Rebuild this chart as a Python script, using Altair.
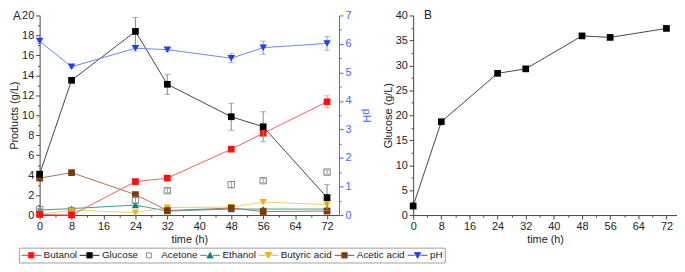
import altair as alt
import pandas as pd

# ---------------- data ----------------
time_h = [0, 8, 24, 32, 48, 56, 72]

butanol = [0.05, 0.0, 3.35, 3.7, 6.6, 8.2, 11.35]
butanol_err = [0.0, 0.0, 0.15, 0.15, 0.2, 0.25, 0.6]
glucose = [4.1, 13.5, 18.4, 13.1, 9.85, 8.85, 1.75]
glucose_err = [0.2, 0.2, 1.4, 1.0, 1.35, 1.5, 1.3]
acetone = [0.55, 0.45, 1.5, 2.45, 3.05, 3.45, 4.3]
acetone_err = [0.1, 0.1, 0.25, 0.2, 0.3, 0.2, 0.2]
ethanol = [0.5, 0.65, 1.0, 0.4, 0.6, 0.6, 0.6]
ethanol_err = [0.1, 0.1, 0.15, 0.05, 0.05, 0.1, 0.1]
butyric = [0.05, 0.5, 0.25, 0.75, 0.8, 1.3, 1.05]
butyric_err = [0.0, 0.05, 0.05, 0.05, 0.1, 0.2, 0.15]
acetic = [3.7, 4.25, 2.05, 0.45, 0.7, 0.35, 0.4]
acetic_err = [0.1, 0.1, 0.1, 0.05, 0.1, 0.05, 0.05]
ph = [6.1, 5.2, 5.85, 5.8, 5.5, 5.87, 6.02]
ph_err = [0.08, 0.05, 0.1, 0.06, 0.16, 0.23, 0.24]

glucose_b = [1.8, 18.7, 28.4, 29.3, 35.9, 35.6, 37.4]
glucose_b_err = [0.6, 0.3, 0.4, 0.4, 0.3, 0.3, 0.3]

series_names = ["Butanol", "Glucose", "Acetone", "Ethanol", "Butyric acid", "Acetic acid", "pH"]
series_values = [butanol, glucose, acetone, ethanol, butyric, acetic, ph]
series_errors = [butanol_err, glucose_err, acetone_err, ethanol_err, butyric_err, acetic_err, ph_err]

# ---------------- styles ----------------
FONT = "Liberation Sans"
BLUE_AXIS = "#4a63ff"
marker_colors = ["#ff1010", "#000000", "#8a8a8a", "#0a807a", "#f0b020", "#7a3a0e", "#1f3dff"]
line_colors = ["#ff5a5a", "#444444", "#8a8a8a", "#3a9e9a", "#f5cc70", "#a77450", "#6a86ff"]
err_colors = ["#ff8080", "#8a8a8a", "#9a9a9a", "#60b0ac", "#f5cc70", "#a77450", "#8098ff"]
marker_shapes = ["square", "square", "square", "triangle-up", "triangle-down", "square", "triangle-down"]
marker_filled = [True, True, False, True, True, True, True]
marker_sizes = [46, 46, 42, 52, 52, 46, 58]
has_line = [True, True, False, True, True, True, True]

legend_fills = ["#ff1010", "#000000", "#ffffff", "#0a807a", "#f0b020", "#7a3a0e", "#1f3dff"]
legend_strokes = ["#ff3030", "#222222", "#8a8a8a", "#2a8e8a", "#f0b020", "#8a5030", "#3050ff"]
LINES = "M-1,0H0.4M1.6,0H3.0"
legend_paths = [
    LINES + "M0.45,-0.55H1.55V0.55H0.45Z",
    LINES + "M0.45,-0.55H1.55V0.55H0.45Z",
    "M0.5,-0.5H1.5V0.5H0.5Z",
    LINES + "M1.0,-0.62L1.65,0.55H0.35Z",
    LINES + "M1.0,0.62L1.65,-0.55H0.35Z",
    LINES + "M0.45,-0.55H1.55V0.55H0.45Z",
    LINES + "M1.0,0.62L1.65,-0.55H0.35Z",
]

# ---------------- tables ----------------
rows = []
for name, vals, errs in zip(series_names, series_values, series_errors):
    for t, v, e in zip(time_h, vals, errs):
        rows.append({"time": t, "value": v, "err": e, "lo": v - e, "hi": v + e, "series": name})
df = pd.DataFrame(rows)

df_b = pd.DataFrame({"time": time_h, "value": glucose_b, "err": glucose_b_err})
df_b["lo"] = df_b["value"] - df_b["err"]
df_b["hi"] = df_b["value"] + df_b["err"]


def cond_tick(test):
    return {"condition": {"test": test, "value": 4}, "value": 2}


x_axis = alt.Axis(
    title="time (h)",
    values=list(range(0, 73, 4)),
    labelExpr="datum.value % 8 === 0 ? datum.label : ''",
    tickSize=cond_tick("datum.value % 8 === 0"),
    labelFlush=False,
    labelOverlap=False,
)


def X():
    return alt.X("time:Q", scale=alt.Scale(domain=[0, 75], nice=False, zero=False), axis=x_axis)


yA_axis = alt.Axis(
    title="Products (g/L)",
    values=list(range(0, 21)),
    labelExpr="datum.value % 2 === 0 ? datum.label : ''",
    tickSize=cond_tick("datum.value % 2 === 0"),
    labelOverlap=False,
)
ph_axis = alt.Axis(
    title="pH",
    orient="right",
    values=[i * 0.5 for i in range(15)],
    format=".0f",
    labelExpr="datum.value % 1 === 0 ? datum.label : ''",
    tickSize=cond_tick("datum.value % 1 === 0"),
    labelOverlap=False,
    domainColor=BLUE_AXIS,
    tickColor=BLUE_AXIS,
    labelColor=BLUE_AXIS,
    titleColor=BLUE_AXIS,
    titlePadding=10,
)
yB_axis = alt.Axis(
    title="Glucose (g/L)",
    values=[i * 2.5 for i in range(17)],
    format=".0f",
    labelExpr="datum.value % 5 === 0 ? datum.label : ''",
    tickSize=cond_tick("datum.value % 5 === 0"),
    labelOverlap=False,
)


def YA(field):
    return alt.Y(field + ":Q", scale=alt.Scale(domain=[0, 20], nice=False), axis=yA_axis)


def YPH(field):
    return alt.Y(field + ":Q", scale=alt.Scale(domain=[0, 7], nice=False), axis=ph_axis)


def YB(field):
    return alt.Y(field + ":Q", scale=alt.Scale(domain=[0, 40], nice=False), axis=yB_axis)


def series_layers(i, yfn):
    d = df[df["series"] == series_names[i]]
    out = []
    if has_line[i]:
        out.append(alt.Chart(d).mark_line(color=line_colors[i], strokeWidth=1).encode(x=X(), y=yfn("value")))
    de = d[d["err"] > 0]
    out.append(alt.Chart(de).mark_rule(color=err_colors[i], strokeWidth=1).encode(x=X(), y=yfn("lo"), y2=alt.Y2("hi:Q")))
    out.append(alt.Chart(de).mark_tick(color=err_colors[i], orient="horizontal", size=6, thickness=1).encode(x=X(), y=yfn("lo")))
    out.append(alt.Chart(de).mark_tick(color=err_colors[i], orient="horizontal", size=6, thickness=1).encode(x=X(), y=yfn("hi")))
    out.append(
        alt.Chart(d)
        .mark_point(
            shape=marker_shapes[i],
            filled=marker_filled[i],
            color=marker_colors[i],
            size=marker_sizes[i],
            opacity=1,
            strokeWidth=1,
        )
        .encode(x=X(), y=yfn("value"))
    )
    return out


draw_order = [3, 4, 5, 2, 0, 1]
prod_layers = []
for i in draw_order:
    prod_layers += series_layers(i, YA)

H = 202

legend_def = alt.Legend(
    title=None,
    orient="none",
    legendX=-21,
    legendY=H + 33,
    direction="horizontal",
    symbolSize=100,
    symbolStrokeWidth=1,
    symbolOpacity=1,
    labelOffset=12,
    columnPadding=0,
    padding=2,
    strokeColor="#a0a0a0",
    fillColor="#ffffff",
    labelFont=FONT,
    labelFontSize=10,
    labelColor="#222222",
    labelLimit=0,
)
legend_layer = (
    alt.Chart(pd.DataFrame({"series": series_names}))
    .mark_point(filled=True, opacity=1)
    .encode(
        fill=alt.Fill("series:N", scale=alt.Scale(domain=series_names, range=legend_fills), legend=legend_def),
        stroke=alt.Stroke("series:N", scale=alt.Scale(domain=series_names, range=legend_strokes), legend=legend_def),
        shape=alt.Shape("series:N", scale=alt.Scale(domain=series_names, range=legend_paths), legend=legend_def),
    )
    .transform_filter("false")
)

text_a = (
    alt.Chart(pd.DataFrame({"label": ["A"]}))
    .mark_text(align="center", baseline="middle", font=FONT, fontSize=12, color="#222222")
    .encode(text="label:N", x=alt.value(-23), y=alt.value(1))
)

products = alt.layer(*prod_layers, legend_layer, text_a)
ph_group = alt.layer(*series_layers(6, YPH))

panel_a = alt.layer(products, ph_group).resolve_scale(y="independent").properties(width=303, height=H)

line_b = alt.Chart(df_b).mark_line(color="#444444", strokeWidth=1).encode(x=X(), y=YB("value"))
err_b = alt.Chart(df_b).mark_rule(color="#8a8a8a", strokeWidth=1).encode(x=X(), y=YB("lo"), y2=alt.Y2("hi:Q"))
pts_b = (
    alt.Chart(df_b)
    .mark_point(shape="square", filled=True, color="#000000", size=46, opacity=1)
    .encode(x=X(), y=YB("value"))
)
text_b = (
    alt.Chart(pd.DataFrame({"label": ["B"]}))
    .mark_text(align="left", baseline="middle", font=FONT, fontSize=12, color="#222222")
    .encode(text="label:N", x=alt.value(11), y=alt.value(0))
)
panel_b = alt.layer(line_b, err_b, pts_b, text_b).properties(width=267, height=H)

chart = (
    alt.hconcat(panel_a, panel_b, spacing=9)
    .properties(padding={"left": 0, "top": 0, "right": 0, "bottom": 0}, background="#ffffff")
    .configure_view(stroke=None)
    .configure_axis(
        grid=False,
        labelFont=FONT,
        labelFontSize=11,
        labelColor="#222222",
        titleFont=FONT,
        titleFontSize=11,
        titleFontWeight="normal",
        titleColor="#222222",
        domainColor="#444444",
        tickColor="#444444",
        labelPadding=2,
        titlePadding=2,
    )
)

chart.save("out.html", embed_options={"renderer": "svg", "actions": False})
